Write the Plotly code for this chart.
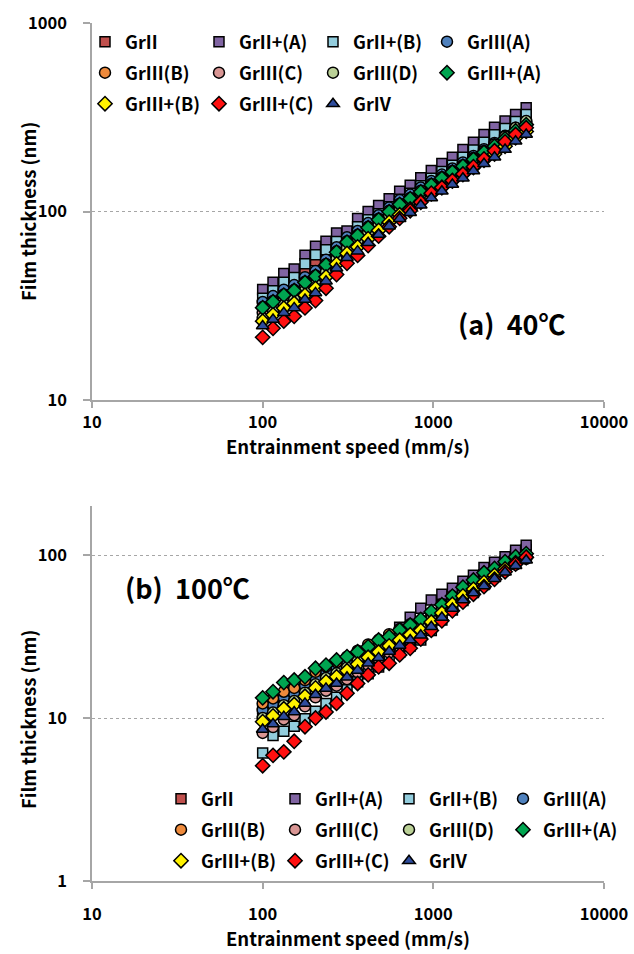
import plotly.graph_objects as go

# ---------------- data ----------------
speed = [100, 115, 133, 153, 177, 204, 235, 271, 312, 360, 415, 478, 551,
         635, 732, 844, 973, 1122, 1293, 1491, 1718, 1981, 2283, 2632, 3034, 3500]

names = ["GrII", "GrII+(A)", "GrII+(B)", "GrIII(A)", "GrIII(B)", "GrIII(C)",
         "GrIII(D)", "GrIII+(A)", "GrIII+(B)", "GrIII+(C)", "GrIV"]

# (a) 40 C film thickness (nm)
t40_GrII = [31.7, 34.7, 38.8, 41.2, 48.8, 54.8, 58.3, 64.8, 66.6, 77.9, 85.2, 92.0, 100,
            110, 119, 131, 144, 157, 170, 188, 206, 227, 249, 270, 293, 320]
t40_GrII_A = [38.6, 42.2, 46.9, 49.6, 58.6, 65.5, 69.5, 77.0, 78.7, 91.8, 100, 107.6, 117,
              128, 138, 151, 165, 180, 194, 213, 233, 256, 280, 302, 327, 355]
t40_GrII_B = [34.7, 38.0, 42.2, 44.7, 52.8, 59.0, 62.6, 69.4, 71.0, 82.9, 90.3, 97.2, 106,
              116, 125, 137, 150, 163, 176, 194, 212, 233, 255, 276, 300, 327]
t40_GrIII_A = [33.1, 35.6, 38.5, 40.7, 44.8, 48.3, 55.5, 64.6, 73.0, 78.8, 86.8, 95.5, 105,
               115, 123, 134, 145, 157, 169, 182, 197, 214, 231, 252, 278, 300]
t40_GrIII_B = [31.1, 33.5, 36.3, 38.4, 42.4, 45.8, 52.7, 61.5, 69.6, 75.2, 82.9, 91.5, 101,
               110, 118, 129, 140, 152, 164, 176, 192, 209, 226, 247, 272, 294]
t40_GrIII_C = [29.1, 31.5, 34.1, 36.2, 40.0, 43.3, 49.9, 58.3, 66.1, 71.6, 79.1, 87.4, 96.6,
               106, 113, 124, 135, 147, 159, 171, 187, 204, 220, 242, 267, 289]
t40_GrIII_D = [27.2, 29.5, 32.1, 34.2, 38.0, 41.3, 47.8, 56.1, 64.0, 69.5, 77.2, 85.7, 95.2,
               104, 113, 124, 136, 148, 161, 174, 191, 209, 227, 250, 278, 302]
t40_GrIIIp_A = [30.9, 33.2, 36.0, 38.1, 42.0, 45.4, 52.1, 60.8, 68.8, 74.4, 82.0, 90.4, 99.7,
                109, 117, 127, 138, 150, 162, 174, 189, 206, 222, 243, 268, 289]
t40_GrIIIp_B = [26.2, 28.3, 30.7, 32.6, 36.0, 39.1, 45.0, 52.7, 59.9, 64.9, 71.7, 79.3, 87.8,
                96.1, 103, 113, 124, 134, 145, 157, 171, 187, 202, 222, 246, 266]
t40_GrIIIp_C = [21.5, 24.0, 26.2, 27.8, 30.8, 33.7, 39.2, 46.3, 53.1, 58.5, 66.0, 74.0, 83.0,
                92.0, 101, 112, 125, 134, 146, 158, 173, 190, 210, 234, 256, 278]
t40_GrIV = [24.7, 26.7, 29.0, 30.8, 34.1, 37.0, 42.7, 50.0, 56.8, 61.6, 68.2, 75.5, 83.6,
            91.5, 98.5, 108, 118, 128, 139, 150, 164, 179, 194, 213, 236, 256]

# (b) 100 C film thickness (nm)
t100_GrII = [10.5, 11.4, 12.6, 13.4, 15.1, 17.0, 18.6, 19.9, 21.6, 23.7, 26.2, 28.2, 30.8,
             33.4, 36.0, 38.4, 43.2, 49.1, 55.6, 62.5, 68.8, 75.8, 83.7, 91.5, 100, 108]
t100_GrII_A = [11.5, 12.3, 13.3, 14.4, 15.6, 16.9, 18.3, 19.9, 21.6, 23.4, 25.5, 28.0, 31.0,
               36.0, 41.5, 47.1, 53.0, 57.5, 62.5, 69.0, 75.3, 84.0, 90.2, 97.7, 107, 115]
t100_GrII_B = [6.1, 7.8, 8.3, 8.9, 9.9, 11.0, 12.3, 13.4, 14.9, 16.7, 18.7, 20.6, 22.9,
               25.3, 27.7, 30.1, 34.5, 40.0, 46.0, 52.7, 59.0, 66.0, 74.1, 82.5, 91.7, 100]
t100_GrIII_A = [11.2, 12.1, 13.3, 14.1, 15.7, 17.7, 19.2, 20.4, 22.1, 24.1, 26.5, 28.3, 30.7,
                33.2, 35.5, 37.7, 42.1, 47.6, 53.6, 59.9, 65.5, 71.7, 78.7, 85.6, 92.9, 99.5]
t100_GrIII_B = [12.3, 13.2, 14.5, 15.3, 17.1, 19.2, 20.7, 22.0, 23.8, 25.9, 28.3, 30.2, 32.7,
                35.2, 37.6, 39.7, 44.3, 49.9, 56.0, 62.3, 68.0, 74.2, 81.0, 87.8, 94.9, 101]
t100_GrIII_C = [8.1, 8.8, 9.8, 10.4, 11.8, 13.4, 14.7, 15.8, 17.3, 19.1, 21.2, 23.0, 25.2,
                27.5, 29.8, 31.9, 36.1, 41.3, 47.0, 53.2, 58.9, 65.2, 72.4, 79.6, 87.5, 94.9]
t100_GrIII_D = [10.0, 10.8, 12.0, 12.7, 14.3, 16.1, 17.6, 18.8, 20.4, 22.4, 24.7, 26.5, 28.9,
                31.4, 33.7, 36.0, 40.4, 45.9, 51.9, 58.3, 64.1, 70.5, 77.8, 85.0, 92.8, 100]
t100_GrIIIp_A = [13.3, 14.5, 16.5, 17.1, 17.9, 20.2, 21.1, 22.7, 23.8, 25.5, 27.4, 30.1, 31.6,
                 34.7, 37.2, 40.3, 44.9, 49.5, 56.0, 63.5, 70.3, 77.8, 82.8, 91.0, 97.7, 102]
t100_GrIIIp_B = [9.5, 10.3, 11.4, 12.1, 13.6, 15.3, 16.7, 17.9, 19.5, 21.4, 23.6, 25.4, 27.7,
                 30.1, 32.4, 34.5, 38.8, 44.1, 49.9, 56.1, 61.8, 68.0, 75.1, 82.1, 89.7, 96.7]
t100_GrIIIp_C = [5.1, 5.9, 6.2, 7.2, 8.85, 10.0, 10.9, 12.3, 14.2, 16.3, 18.4, 20.6, 21.7,
                 24.4, 26.8, 30.5, 34.5, 39.5, 45.5, 51.5, 57.5, 64.0, 71.0, 79.0, 88.0, 97.0]
t100_GrIV = [8.5, 9.2, 10.2, 10.9, 12.3, 13.9, 15.2, 16.3, 17.8, 19.6, 21.7, 23.4, 25.6,
             27.9, 30.1, 32.2, 36.3, 41.4, 47.0, 53.0, 58.5, 64.6, 71.5, 78.5, 86.0, 93.0]

x_ticks = [10, 100, 1000, 10000]
x_ticktext = ["10", "100", "1000", "10000"]
y40_ticks = [10, 100, 1000]
y40_ticktext = ["10", "100", "1000"]
y100_ticks = [1, 10, 100]
y100_ticktext = ["1", "10", "100"]

data40 = [t40_GrII, t40_GrII_A, t40_GrII_B, t40_GrIII_A, t40_GrIII_B, t40_GrIII_C,
          t40_GrIII_D, t40_GrIIIp_A, t40_GrIIIp_B, t40_GrIIIp_C, t40_GrIV]
data100 = [t100_GrII, t100_GrII_A, t100_GrII_B, t100_GrIII_A, t100_GrIII_B, t100_GrIII_C,
           t100_GrIII_D, t100_GrIIIp_A, t100_GrIIIp_B, t100_GrIIIp_C, t100_GrIV]

# ---------------- style ----------------
colors = ["#C0504D", "#8064A2", "#93CDDD", "#4F81BD", "#EE8A3C", "#D99694",
          "#BBD197", "#00A550", "#FFF200", "#FF1010", "#2E4C9C"]
symbols = ["square", "square", "square", "circle", "circle", "circle", "circle",
           "diamond", "diamond", "diamond", "triangle-up"]
sizes = [10, 10, 10, 11, 11, 11, 11, 11, 11, 11, 11]

FONT = "Noto Sans CJK KR, Noto Sans, sans-serif"
W, H = 634, 954
ML, MR, MT, MB = 0, 30, 23, 73
GW, GH = W - ML - MR, H - MT - MB


def px_x(p):
    return (p - ML) / GW


def px_y(p):
    return (H - MB - p) / GH


fig = go.Figure()
legend_names = ["legend", "legend2", "legend3", "legend4", "legend5", "legend6"]
for panel, data in enumerate([data40, data100]):
    for i, vals in enumerate(data):
        row = i // 4
        fig.add_trace(go.Scatter(
            x=speed, y=vals, name=names[i], mode="markers",
            xaxis="x" if panel == 0 else "x2",
            yaxis="y" if panel == 0 else "y2",
            legend=legend_names[panel * 3 + row],
            marker=dict(symbol=symbols[i], size=sizes[i], color=colors[i],
                        line=dict(color="#000000", width=1.5)),
        ))

axis_col = "#A6A6A6"
tickfont = dict(family=FONT, size=16.5, color="#000000", weight="bold")
titlefont = dict(family=FONT, size=18.5, color="#000000", weight="bold")

common_x = dict(type="log", range=[1, 4], domain=[px_x(92), 1.0], showgrid=False,
                zeroline=False, showline=True, linecolor=axis_col, linewidth=1.5,
                ticks="outside", ticklen=6, tickcolor=axis_col, tickwidth=1.5,
                tickvals=x_ticks, ticktext=x_ticktext, tickfont=tickfont)
common_y = dict(type="log", showgrid=True, gridcolor=axis_col, griddash="dot", gridwidth=1,
                zeroline=False, showline=True, linecolor=axis_col, linewidth=1.5,
                ticks="outside", ticklen=7, tickcolor=axis_col, tickwidth=1.5,
                tickfont=tickfont, ticklabelstandoff=13)

fig.update_layout(
    width=W, height=H,
    margin=dict(l=ML, r=MR, t=MT, b=MB, autoexpand=False),
    paper_bgcolor="white", plot_bgcolor="white",
    font=dict(family=FONT, color="#000000"),
    xaxis=dict(common_x, anchor="y", ticklabelstandoff=0,
               title=dict(text="Entrainment speed (mm/s)", font=titlefont, standoff=0)),
    yaxis=dict(common_y, anchor="x", range=[1, 3], domain=[px_y(400), 1.0],
               tickvals=y40_ticks, ticktext=y40_ticktext),
    xaxis2=dict(common_x, anchor="y2", ticklabelstandoff=11,
                title=dict(text="Entrainment speed (mm/s)", font=titlefont, standoff=5)),
    yaxis2=dict(common_y, anchor="x2", range=[0, 2.30103], domain=[0.0, px_y(506)],
                tickvals=y100_ticks, ticktext=y100_ticktext),
    showlegend=True,
)

# y-axis titles
for yc in (212, 720):
    fig.add_annotation(text="Film thickness (nm)", x=px_x(28), y=px_y(yc),
                       xref="paper", yref="paper", textangle=-90, showarrow=False,
                       xanchor="center", yanchor="middle", font=titlefont)

legfont = dict(family=FONT, size=18, color="#000000", weight="bold")
top_rows = [42, 73, 104]
bot_rows = [799, 830, 861]
for k, ln in enumerate(legend_names):
    if k < 3:
        lx, ly = 85, top_rows[k]
    else:
        lx, ly = 161, bot_rows[k - 3]
    fig.update_layout({ln: dict(orientation="h", x=px_x(lx), y=px_y(ly),
                                xanchor="left", yanchor="middle",
                                entrywidth=69, entrywidthmode="pixels",
                                font=legfont, bgcolor="rgba(0,0,0,0)",
                                borderwidth=0, itemsizing="trace",
                                tracegroupgap=0)})

fig.add_annotation(text="(a)  40℃", x=px_x(512), y=px_y(323), xref="paper", yref="paper",
                   showarrow=False, xanchor="center", yanchor="middle",
                   font=dict(family=FONT, size=27, color="#000000", weight="bold"))
fig.add_annotation(text="(b)  100℃", x=px_x(187), y=px_y(587), xref="paper", yref="paper",
                   showarrow=False, xanchor="center", yanchor="middle",
                   font=dict(family=FONT, size=27, color="#000000", weight="bold"))

fig.write_html("out.html")
